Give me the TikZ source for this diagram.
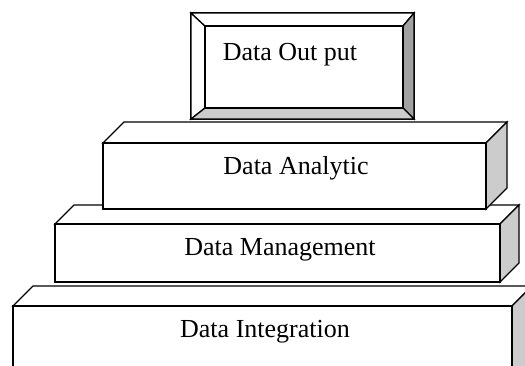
\documentclass[tikz,border=0pt]{standalone}
\usepackage{fontspec}
\setmainfont{Liberation Serif}
\usetikzlibrary{calc,positioning}

% balok 3D: #2 pojok kiri atas depan, #3 pojok kanan bawah depan, #1 kedalaman
\newcommand{\balok}[3][20]
	{
	\coordinate (tempa) at (#2 -| #3);%kanan atas depan
	\draw[sisi] (#2) -- ($(#2)+(#1,-#1)$) -- ($(tempa)+(#1,-#1)$) -- (tempa) -- cycle;
	\draw[sisi,fill=abu] (tempa) -- ($(tempa)+(#1,-#1)$) -- ($(#3)+(#1,-#1)$) -- (#3) -- cycle;
	\draw[sisi] (#2) rectangle (#3);
	}
\definecolor{abu}{gray}{0.8}
\definecolor{abutua}{gray}{0.63}
\tikzset{
	sisi/.style={draw=black,fill=white,line width=1.3pt,line join=miter},
	teks/.style={font=\fontsize{26}{30}\selectfont,anchor=base,inner sep=0pt}
}

\begin{document}
\begin{tikzpicture}[x=1pt,y=-1pt]
\useasboundingbox (0,0) rectangle (525,365);
\clip (0,0) rectangle (525,365);

% titik-titik balok
\coordinate (I1) at (13,306);  \coordinate (I2) at (512,390);
\coordinate (M1) at (55,224);  \coordinate (M2) at (500,282);
\coordinate (A1) at (103,143); \coordinate (A2) at (486,209);

% pembuatan balok dari bawah ke atas
\balok{I1}{I2}
\balok[19]{M1}{M2}
\balok[21]{A1}{A2}

% kotak timbul paling atas
\coordinate (O1) at (191,13);  \coordinate (O2) at (414,119);
\coordinate (D1) at (205,26);  \coordinate (D2) at (403,108);
\draw[sisi] (O1) rectangle (O2);
\draw[sisi] (O1) -- (D1) -- (D1 |- D2) -- (O1 |- O2) -- cycle;
\draw[sisi] (O1) -- (O2 |- O1) -- (D2 |- D1) -- (D1) -- cycle;
\draw[sisi,fill=abutua] (O2 |- O1) -- (O2) -- (D2) -- (D2 |- D1) -- cycle;
\draw[sisi,fill=abu] (O1 |- O2) -- (O2) -- (D2) -- (D1 |- D2) -- cycle;
\draw[sisi] (D1) rectangle (D2);

% label tiap lapisan
\node[teks] (output) at (290,60) {Data Out put};
\node[teks] (analitik) at (296,174) {Data Analytic};
\node[teks] (manajemen) at (280,255) {Data Management};
\node[teks] (integrasi) at (265,337) {Data Integration};

\end{tikzpicture}
\end{document}
